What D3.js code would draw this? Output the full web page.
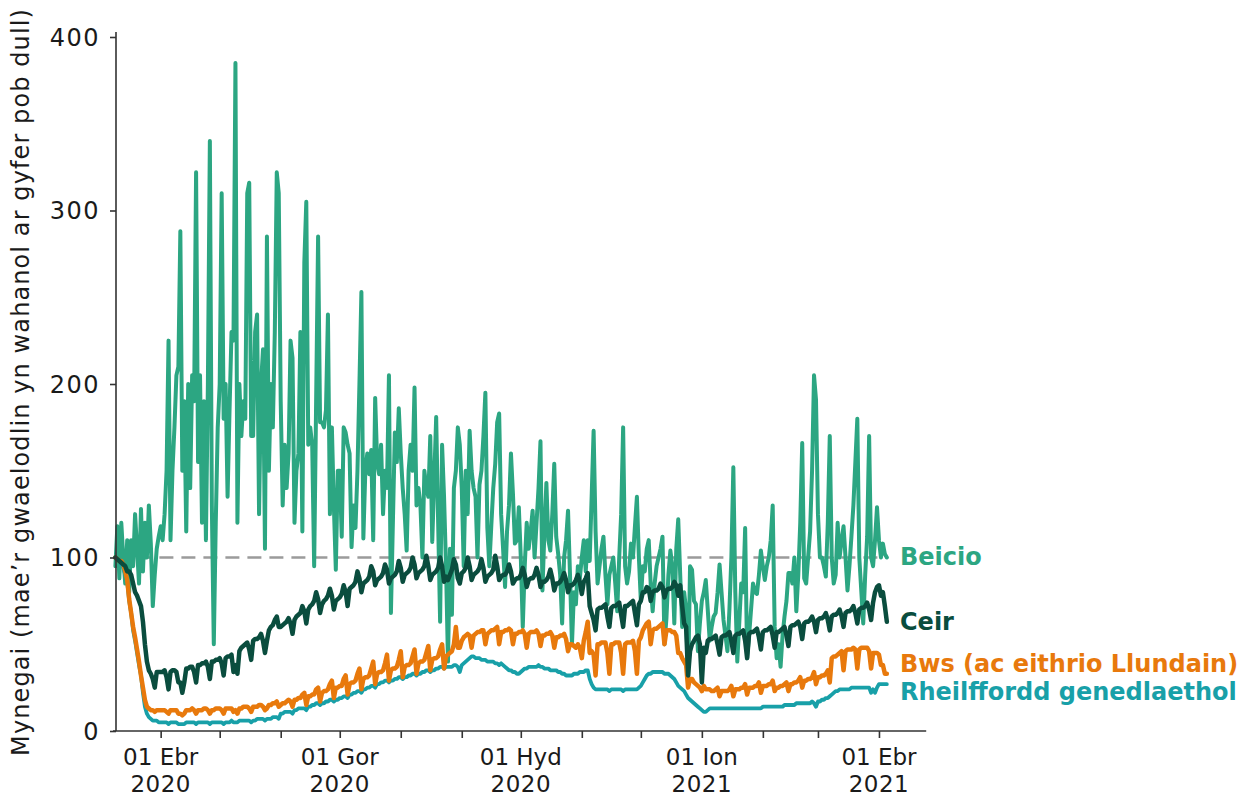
<!DOCTYPE html>
<html><head><meta charset="utf-8">
<script src="https://cdn.jsdelivr.net/npm/d3@7"></script>
<style>body{margin:0;background:#fff}svg{display:block}text{font-family:"DejaVu Sans",sans-serif}</style>
</head><body><svg id="c" width="1258" height="798"></svg>
<script>
// ---- data (daily, starting Monday 2020-03-09) ----
const startDate = "2020-03-09";
const endDomain = "2021-04-25";
const seriesNames = ["Beicio", "Ceir", "Bws (ac eithrio Llundain)", "Rheilffordd genedlaethol"];
const cycling = [
95,118,88,120,100,85,110, 80,110,95,125,105,85,128, 92,120,100,130,108,72,90,
105,112,118,110,125,150,225, 110,150,175,205,210,288,150, 190,115,200,140,205,190,322,
155,205,120,190,110,200,340, 130,50,120,175,200,310,180, 200,135,185,230,225,385,120,
200,170,190,180,310,316,170, 170,230,240,125,200,220,105, 285,150,200,175,230,322,310,
190,130,165,140,160,225,215, 120,150,160,230,115,270,305, 165,175,165,95,190,285,178,
178,175,185,240,125,175,130, 93,150,150,112,175,172,165, 160,106,130,117,150,200,253,
111,150,160,148,162,110,192, 155,148,165,125,150,140,205, 68,120,172,155,186,160,140,
125,104,150,165,150,198,130, 140,130,100,150,140,135,170, 109,145,181,120,63,165,135,
95,40,105,67,140,150,175, 165,140,95,150,125,173,150, 140,135,100,142,150,170,195,
117,95,118,140,154,178,183, 125,105,83,115,130,160,137, 108,110,129,100,60,95,120,
105,115,127,100,120,140,167, 81,115,143,110,104,125,154, 112,102,90,62,100,110,127,
90,50,80,73,95,88,100, 110,92,110,98,135,173,115, 85,95,105,112,90,73,90,
95,100,85,69,100,125,175, 95,85,92,108,100,118,135, 100,75,95,92,105,110,85,
69,85,95,100,105,112,50, 65,90,104,95,62,105,122, 90,60,80,70,27,95,93,
75,73,46,62,75,80,87, 70,52,60,66,68,80,96, 80,64,55,46,70,100,152,
80,40,62,85,80,117,42, 55,70,85,80,79,90,104, 95,87,95,100,110,130,60,
42,50,37,55,66,75,91, 91,85,100,69,90,120,166, 88,85,100,115,150,205,191,
125,100,100,95,89,120,170, 100,85,90,120,100,110,118, 100,81,95,112,130,155,180,
100,81,62,90,112,170,100, 95,110,129,110,100,108,102, 100];
const cars = [
100,99,98,97,96,95,92, 92,90,85,80,78,75,72, 63,50,40,35,33,30,25,
34,34,34,34,35,31,24, 34,35,35,34,28,28,22, 28,36,36,37,37,34,28,
38,38,39,39,40,37,30, 40,40,41,41,42,39,32, 42,43,43,44,34,38,33,
46,48,49,50,51,47,41, 52,53,53,54,56,52,45, 52,58,60,61,64,66,60,
60,61,62,63,65,62,56, 64,66,67,68,72,69,62, 70,72,73,75,80,76,68,
73,75,76,78,82,78,70, 75,76,77,79,84,80,72, 82,83,84,86,92,88,80,
85,86,87,89,95,92,84, 87,88,89,91,96,93,85, 88,89,90,92,98,94,86,
90,91,92,94,100,96,88, 91,92,93,95,101,95,87, 90,91,92,94,100,95,86,
89,87,90,93,99,96,88, 85,91,92,94,100,95,87, 90,91,92,94,99,94,86,
89,90,91,93,101,95,87, 89,90,90,92,96,92,85, 87,88,88,90,94,90,83,
87,88,88,90,94,90,83, 86,86,87,89,93,88,81, 85,85,86,88,91,87,80,
84,84,85,87,90,86,79, 86,88,91,72,68,64,58, 70,71,71,72,73,66,60,
71,72,72,73,74,67,60, 72,72,73,74,75,68,61, 73,75,80,80,83,82,75,
80,81,81,82,85,83,77, 81,82,82,83,86,84,78, 84,72,62,60,32,46,50,
52,54,55,50,28,48,45, 52,53,53,54,55,50,44, 54,55,55,56,57,52,45,
55,56,56,57,58,52,42, 56,57,57,58,59,54,47, 57,58,58,59,60,55,48,
57,57,58,59,60,55,49, 60,61,61,62,63,60,53, 62,63,63,64,66,63,57,
64,65,65,66,68,64,58, 66,67,67,68,70,66,60, 68,69,69,70,72,68,62,
70,71,71,72,74,70,64, 74,80,83,84,78,80,72, 63];
const bus = [
100,99,98,98,96,92,87, 76,68,60,54,47,40,32, 25,18,14,13,12,12,11,
12,12,12,12,12,11,10, 12,12,12,12,10,10,9, 10,12,12,12,13,12,10,
12,12,12,13,13,12,10, 12,12,13,13,13,12,10, 13,13,13,13,11,12,10,
13,13,14,14,14,13,11, 14,14,14,15,15,14,12, 13,15,15,16,16,17,14,
15,16,16,17,18,17,14, 18,18,19,19,21,22,15, 20,20,21,21,24,25,17,
22,23,23,24,27,29,19, 25,25,26,26,30,32,21, 27,28,28,29,33,36,24,
30,31,31,32,36,40,27, 33,34,34,35,39,44,29, 35,36,36,37,41,46,31,
37,38,38,39,43,47,33, 39,40,40,41,45,49,35, 41,42,42,43,47,50,36,
43,44,45,46,50,60,48, 48,52,54,55,56,55,48, 55,56,57,57,58,58,50,
56,57,58,58,59,60,50, 57,57,58,58,59,58,50, 56,56,57,57,58,56,48,
56,57,57,57,58,56,49, 55,55,56,56,57,55,48, 54,54,55,55,56,53,46,
50,50,49,48,50,48,42, 52,57,63,45,46,44,32, 50,50,51,51,51,45,33,
50,50,51,51,51,45,33, 50,51,51,51,52,46,33, 52,54,58,60,62,63,50,
58,59,59,60,61,62,50, 58,58,58,57,57,55,45, 45,42,40,38,25,30,30,
28,27,26,25,23,26,24, 24,24,23,23,24,25,20, 23,23,23,23,24,26,20,
24,24,24,25,25,27,21, 25,25,25,26,26,28,22, 26,26,26,27,27,29,23,
25,25,26,26,27,28,23, 27,27,28,28,29,31,25, 29,29,30,30,31,34,27,
31,31,32,32,33,35,28, 42,43,43,44,45,46,35, 46,47,47,47,48,47,36,
47,48,48,48,48,46,36, 45,45,45,44,38,38,33, 33];
const rail = [
100,99,98,96,94,90,86, 75,68,58,52,45,38,32, 22,14,10,8,7,6,6,
6,5,5,5,5,5,4, 5,5,5,5,4,4,4, 4,5,5,5,5,5,4,
5,5,5,5,5,5,4, 5,5,5,5,5,5,4, 5,5,5,6,5,5,5,
6,6,6,6,6,6,5, 6,6,7,7,7,7,6, 7,7,7,8,8,8,7,
10,10,11,11,11,11,10, 12,12,13,13,13,13,12, 14,14,15,15,16,16,15,
16,16,17,17,18,18,17, 18,18,19,19,20,20,19, 21,21,22,22,23,23,22,
24,24,25,25,26,26,25, 27,27,28,28,29,29,28, 29,29,30,30,31,31,30,
31,31,32,32,33,33,32, 33,33,34,34,35,35,34, 35,35,36,36,37,37,36,
37,37,37,37,38,38,37, 34,38,39,40,41,42,43, 43,42,42,42,41,41,41,
40,40,40,40,39,39,38, 39,38,37,36,35,35,34, 34,33,33,34,35,36,36,
37,37,37,37,37,38,37, 37,36,36,36,35,35,35, 35,34,34,33,33,32,32,
32,32,33,33,33,34,34, 34,35,35,30,27,25,24, 24,24,24,24,24,24,23,
24,24,24,24,24,24,23, 24,24,24,24,24,24,24, 25,26,28,30,32,33,33,
34,34,34,34,34,34,33, 33,33,32,31,30,28,26, 25,24,23,21,19,18,17,
16,15,14,13,12,11,11, 12,13,13,13,13,13,13, 13,13,13,13,13,13,13,
13,13,13,13,13,13,13, 13,13,13,13,13,13,13, 14,14,14,14,14,14,14,
14,14,14,14,15,15,15, 15,15,15,16,16,16,16, 16,16,16,16,17,16,14,
17,17,18,18,19,19,20, 21,22,23,23,24,24,24, 24,24,24,25,25,25,25,
25,25,25,25,25,25,22, 24,22,25,27,27,27,27, 27];
const baselineValue = 100;
const yTicks = [0, 100, 200, 300, 400];
const monthTicks = ["2020-04-01","2020-05-01","2020-06-01","2020-07-01","2020-08-01","2020-09-01","2020-10-01","2020-11-01","2020-12-01","2021-01-01","2021-02-01","2021-03-01","2021-04-01"];
const labelTickDates = ["2020-04-01","2020-07-01","2020-10-01","2021-01-01","2021-04-01"];
const labelLine1 = ["01 Ebr","01 Gor","01 Hyd","01 Ion","01 Ebr"];
const labelLine2 = ["2020","2020","2020","2021","2021"];
const yTitle = "Mynegai (mae\u2019r gwaelodlin yn wahanol ar gyfer pob dull)";

// ---- drawing ----
const colors = ["#2ca682", "#0a4d3e", "#e8790c", "#18a0a8"];
const svg = d3.select("#c");
const parse = d3.utcParse("%Y-%m-%d");
const t0 = parse(startDate);
const x = d3.scaleUtc().domain([t0, parse(endDomain)]).range([115.4, 926.2]);
const y = d3.scaleLinear().domain([0, 400]).range([731, 37]);
const toPts = arr => arr.map((v, i) => ({date: d3.utcDay.offset(t0, i), v}));
const line = d3.line().x(d => x(d.date)).y(d => y(d.v));
const axisColor = "#333";

// baseline dashed
const nDays = cycling.length;
svg.append("line")
  .attr("x1", x(t0)).attr("x2", x(d3.utcDay.offset(t0, nDays - 1)))
  .attr("y1", y(baselineValue)).attr("y2", y(baselineValue))
  .attr("stroke", "#9b9b9b").attr("stroke-width", 2.5).attr("stroke-dasharray", "14,8");

const data = [cycling, cars, bus, rail];
const widths = [4, 4.5, 4.5, 3.8];
const drawOrder = [0, 3, 2, 1];
drawOrder.forEach(k => {
  svg.append("path").datum(toPts(data[k]))
    .attr("d", line).attr("fill", "none")
    .attr("stroke", colors[k]).attr("stroke-width", widths[k])
    .attr("stroke-linejoin", "round").attr("stroke-linecap", "round");
});

// axes
const gx = svg.append("g").attr("transform", `translate(0,${y(0)})`)
  .call(d3.axisBottom(x).tickValues(monthTicks.map(parse)).tickSize(7).tickSizeOuter(0).tickFormat(""));
gx.select(".domain").attr("d", `M113,0H${x.range()[1]}`);
gx.selectAll("path,line").attr("stroke", axisColor).attr("stroke-width", 1.6);

const gy = svg.append("g").attr("transform", `translate(116,0)`)
  .call(d3.axisLeft(y).tickValues(yTicks).tickSize(6).tickSizeOuter(0).tickFormat(""));
gy.select(".domain").attr("d", `M0,${y(0)}V${y(400) - 5}`);
gy.selectAll("path,line").attr("stroke", axisColor).attr("stroke-width", 1.6);

// y tick labels
svg.append("g").selectAll("text").data(yTicks).join("text")
  .attr("x", 100).attr("y", d => y(d)).attr("dy", "0.36em")
  .attr("text-anchor", "end").attr("font-size", 24).attr("letter-spacing", 1.5).attr("fill", "#1a1a1a")
  .text(d => d);

// x tick labels (two separate lines)
const xg = svg.append("g").attr("text-anchor", "middle").attr("font-size", 23).attr("fill", "#1a1a1a");
labelTickDates.forEach((d, i) => {
  xg.append("text").attr("x", x(parse(d))).attr("y", 765).text(labelLine1[i]);
  xg.append("text").attr("x", x(parse(d))).attr("y", 792).attr("letter-spacing", 0.5).text(labelLine2[i]);
});

// y title
svg.append("text").attr("transform", "translate(21,382) rotate(-90)")
  .attr("text-anchor", "middle").attr("dominant-baseline", "central")
  .attr("font-size", 24).attr("letter-spacing", 1.1).attr("fill", "#1a1a1a").text(yTitle);

// series labels
const labelY = [565, 630, 672, 700];
seriesNames.forEach((n, k) => {
  svg.append("text").attr("x", 900).attr("y", labelY[k])
    .attr("font-size", 24).attr("font-weight", "bold").attr("fill", colors[k]).text(n);
});
</script></body></html>
